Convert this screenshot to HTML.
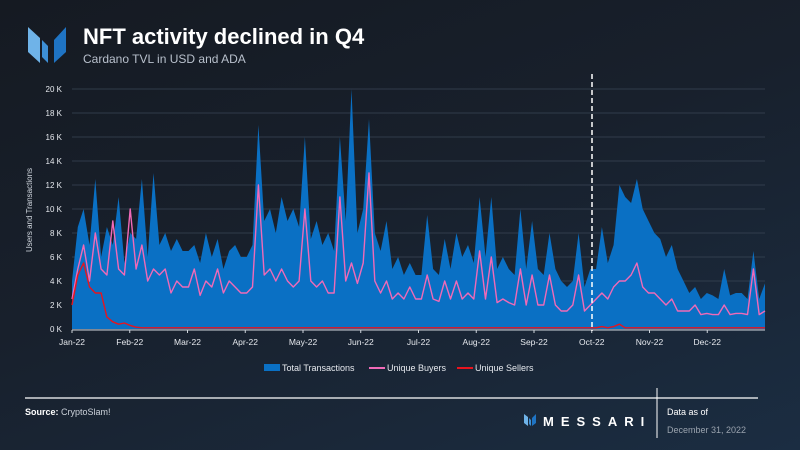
<!DOCTYPE html>
<html><head><meta charset="utf-8">
<style>
html,body{margin:0;padding:0}
body{width:800px;height:450px;overflow:hidden;background:linear-gradient(160deg,#151a22 0%,#18202c 45%,#1b2d42 100%);font-family:"Liberation Sans",sans-serif;position:relative}
</style></head><body>
<svg id="chart" width="800" height="450" style="position:absolute;left:0;top:0">
  <g>
    <polygon points="28,27 40,38 40,63 28,52" fill="#6fb3e8"/>
    <polygon points="42,40 48,46 48,63 42,57" fill="#3d8fd6"/>
    <polygon points="54,40 66,27 66,52 54,63" fill="#1f74c4"/>
  </g>
  <text x="83" y="44" fill="#fff" font-size="22" font-weight="bold">NFT activity declined in Q4</text>
  <text x="83" y="63" fill="#b8c0cc" font-size="12">Cardano TVL in USD and ADA</text>
  <text transform="translate(32,210) rotate(-90)" text-anchor="middle" fill="#d0d6de" font-size="8">Users and Transactions</text>
  <g id="grid"></g><g id="plot"></g><g id="axes"></g>
  <line x1="592" y1="74" x2="592" y2="331" stroke="#fff" stroke-width="1.5" stroke-dasharray="5,3"/>
  <g font-size="9" fill="#e6e9ee">
    <g><rect x="264" y="364" width="16" height="7" fill="#0a70c4"/><text x="282" y="371">Total Transactions</text></g>
    <g><line x1="369" y1="368" x2="385" y2="368" stroke="#f06ab8" stroke-width="2"/><text x="387" y="371">Unique Buyers</text></g>
    <g><line x1="457" y1="368" x2="473" y2="368" stroke="#e8141e" stroke-width="2"/><text x="475" y="371">Unique Sellers</text></g>
  </g>
  <line x1="25" y1="398" x2="758" y2="398" stroke="#fff" stroke-width="1.2"/>
  <line x1="657" y1="388" x2="657" y2="438" stroke="#fff" stroke-width="1"/>
  <text x="25" y="415" font-size="9" fill="#ccd2da"><tspan font-weight="bold" fill="#fff">Source:</tspan> CryptoSlam!</text>
  <g>
    <polygon points="524,414 528,417 528,426 524,423" fill="#6fb3e8"/>
    <polygon points="529,418 531,420 531,426 529,424" fill="#3d8fd6"/>
    <polygon points="532,418 536,414 536,423 532,426" fill="#1f74c4"/>
    <text x="543" y="426" font-size="13" font-weight="bold" fill="#fff" letter-spacing="7">MESSARI</text>
  </g>
  <text x="667" y="415" font-size="9" fill="#fff">Data as of</text>
  <text x="667" y="433" font-size="9" fill="#9aa3ae">December 31, 2022</text>
</svg>
<script>
const monthLabels=["Jan-22","Feb-22","Mar-22","Apr-22","May-22","Jun-22","Jul-22","Aug-22","Sep-22","Oct-22","Nov-22","Dec-22"];
const yTicks=[0,2,4,6,8,10,12,14,16,18,20];
const totalTx=[4,8.5,10,7,12.5,6,8.5,7,11,5.5, 8,7.5,12.5,6,13,7,8,6.5,7.5,6.5, 6.5,7,5.5,8,6,7.5,5,6.5,7,6, 6,7,17,9,10,8,11,9,10,8.5, 16,7.5,9,7,8,6.5,16,9,20,8, 10,17.5,8,6.5,9,5,6,4.5,5.5,4.5, 4.5,9.5,5,4.5,7.5,5,8,6,7,5.5, 11,6,11,5,6,5,4.5,10,5,9, 5,4.5,8,5,4,3.5,4,8,3.5,5, 5,8.5,5.5,7,12,11,10.5,12.5,10,9, 8,7.5,6,7,5,4,3,3.5,2.5,3, 2.8,2.5,5,2.8,3,3,2.5,6.5,2.5,3.8];
const buyers=[2.5,5,7,4,8,5,4.5,9,5,4.5, 10,5,7,4,5,4.5,5,3,4,3.5, 3.5,5,2.8,4,3.5,5,3,4,3.5,3, 3,3.5,12,4.5,5,4,5,4,3.5,4, 10,4,3.5,4,3,3,11,4,5.5,3.8, 5.5,13,4,3,4,2.5,3,2.5,3.5,2.5, 2.5,4.5,2.5,2.3,4,2.5,4,2.5,3,2.5, 6.5,2.5,6,2.2,2.5,2.2,2,5,2,4.5, 2,2,4.5,2,1.5,1.5,2,4.5,1.5,2, 2.5,3,2.5,3.5,4,4,4.5,5.5,3.5,3, 3,2.5,2,2.5,1.5,1.5,1.5,2,1.2,1.3, 1.2,1.2,2,1.2,1.3,1.3,1.2,5,1.2,1.5];
const sellers=[2,4.5,5.5,3.5,3,3,1,0.6,0.4,0.5, 0.3,0.15,0.1,0.1,0.1,0.1,0.1,0.1,0.1,0.1, 0.1,0.1,0.1,0.1,0.1,0.1,0.1,0.1,0.1,0.1, 0.1,0.1,0.1,0.1,0.1,0.1,0.1,0.1,0.1,0.1, 0.1,0.1,0.1,0.1,0.1,0.1,0.1,0.1,0.1,0.1, 0.1,0.1,0.1,0.1,0.1,0.1,0.1,0.1,0.1,0.1, 0.1,0.1,0.1,0.1,0.1,0.1,0.1,0.1,0.1,0.1, 0.1,0.1,0.1,0.1,0.1,0.1,0.1,0.1,0.1,0.1, 0.1,0.1,0.1,0.1,0.1,0.1,0.1,0.1,0.1,0.1, 0.1,0.2,0.1,0.2,0.4,0.1,0.1,0.1,0.1,0.1, 0.1,0.1,0.1,0.1,0.1,0.1,0.1,0.1,0.1,0.1, 0.1,0.1,0.1,0.1,0.1,0.1,0.1,0.1,0.1,0.1];

const X0=72,X1=765,Y0=329,Y1=89,YMAX=20;
const N=totalTx.length;
const xi=i=>X0+(X1-X0)*i/(N-1);
const xm=m=>X0+(X1-X0)*m/12;
const y=v=>Y0-(Y0-Y1)*v/YMAX;
const NS="http://www.w3.org/2000/svg";
function mk(tag,attrs,parent){const e=document.createElementNS(NS,tag);for(const k in attrs)e.setAttribute(k,attrs[k]);parent.appendChild(e);return e;}
const grid=document.getElementById('grid'),plot=document.getElementById('plot'),axes=document.getElementById('axes');
yTicks.forEach(t=>{
  const l=mk('line',{x1:X0,x2:X1,y1:y(t),y2:y(t),stroke:'#3a4656','stroke-width':0.8},grid);
  
  
  const tx=mk('text',{x:62,y:y(t)+3,'text-anchor':'end','font-size':8,fill:'#e6e9ee'},axes);
  tx.textContent=t+' K';
  
  
});
let d='M'+X0+','+Y0;
totalTx.forEach((v,i)=>{d+=' L'+xi(i).toFixed(1)+','+y(v).toFixed(1);});
d+=' L'+X1+','+Y0+' Z';
const area=mk('path',{d:d,fill:'#0a70c4'},plot);


function line(arr,color,name){
  const p=mk('path',{d:arr.map((v,i)=>(i?'L':'M')+xi(i).toFixed(1)+','+y(v).toFixed(1)).join(' '),fill:'none',stroke:color,'stroke-width':1.4,'stroke-linejoin':'round'},plot);
  
  
}
line(buyers,'#f06ab8','unique-buyers-line');
line(sellers,'#e8141e','unique-sellers-line');
const ax=mk('line',{x1:X0,x2:X1,y1:Y0+1,y2:Y0+1,stroke:'#cfd5dc','stroke-width':1},axes);


monthLabels.forEach((m,i)=>{
  const t=mk('line',{x1:xm(i),x2:xm(i),y1:Y0+1,y2:Y0+4,stroke:'#cfd5dc'},axes);
  
  
  const tx=mk('text',{x:xm(i),y:Y0+16,'text-anchor':'middle','font-size':8.5,fill:'#e6e9ee'},axes);
  tx.textContent=m;
  
  
});
</script>
</body></html>
